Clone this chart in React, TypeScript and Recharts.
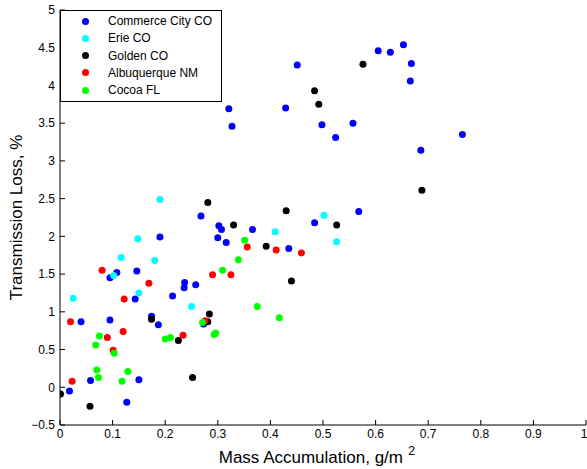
import React from 'react';
import { ScatterChart, Scatter, XAxis, YAxis, Legend } from 'recharts';

// [mass accumulation g/m^2, transmission loss %]
const commerceCity = [
  [0.451, 4.27], [0.605, 4.46], [0.628, 4.44], [0.653, 4.54], [0.668, 4.29], [0.666, 4.06],
  [0.321, 3.69], [0.327, 3.46], [0.429, 3.70], [0.498, 3.48], [0.557, 3.50], [0.524, 3.31],
  [0.765, 3.35], [0.686, 3.14], [0.568, 2.33], [0.484, 2.18], [0.435, 1.84], [0.366, 2.09],
  [0.268, 2.27], [0.302, 2.14], [0.307, 2.09], [0.300, 1.98], [0.316, 1.92], [0.190, 1.99],
  [0.146, 1.54], [0.108, 1.52], [0.095, 1.45], [0.237, 1.39], [0.236, 1.32], [0.258, 1.36],
  [0.214, 1.21], [0.143, 1.17], [0.095, 0.89], [0.040, 0.87], [0.174, 0.94], [0.187, 0.83],
  [0.273, 0.84], [0.058, 0.09], [0.150, 0.10], [0.018, -0.05], [0.127, -0.20],
];
const erie = [
  [0.190, 2.49], [0.148, 1.97], [0.116, 1.72], [0.180, 1.68], [0.102, 1.48], [0.150, 1.25],
  [0.025, 1.18], [0.250, 1.07], [0.409, 2.06], [0.502, 2.28], [0.526, 1.93],
];
const golden = [
  [0.576, 4.28], [0.484, 3.93], [0.492, 3.75], [0.688, 2.61], [0.281, 2.45], [0.330, 2.15],
  [0.430, 2.34], [0.526, 2.15], [0.392, 1.87], [0.440, 1.41], [0.174, 0.90], [0.284, 0.97],
  [0.281, 0.87], [0.225, 0.62], [0.252, 0.13], [0.001, -0.09], [0.057, -0.25],
];
const albuquerque = [
  [0.080, 1.55], [0.290, 1.49], [0.325, 1.49], [0.169, 1.38], [0.122, 1.17], [0.020, 0.87],
  [0.276, 0.88], [0.090, 0.66], [0.120, 0.74], [0.101, 0.49], [0.234, 0.69], [0.023, 0.08],
  [0.356, 1.86], [0.411, 1.82], [0.459, 1.78],
];
const cocoa = [
  [0.351, 1.95], [0.339, 1.69], [0.309, 1.55], [0.271, 0.86], [0.075, 0.68], [0.068, 0.56],
  [0.103, 0.45], [0.200, 0.64], [0.210, 0.66], [0.293, 0.70], [0.296, 0.72], [0.070, 0.23],
  [0.073, 0.13], [0.129, 0.21], [0.118, 0.08], [0.375, 1.07], [0.417, 0.92],
];

const xTicks = [0, 0.1, 0.2, 0.3, 0.4, 0.5, 0.6, 0.7, 0.8, 0.9, 1];
const yTicks = [-0.5, 0, 0.5, 1, 1.5, 2, 2.5, 3, 3.5, 4, 4.5, 5];

const series = [
  { name: 'Commerce City CO', color: '#0000ff', points: commerceCity },
  { name: 'Erie CO', color: '#00ffff', points: erie },
  { name: 'Golden CO', color: '#000000', points: golden },
  { name: 'Albuquerque NM', color: '#ff0000', points: albuquerque },
  { name: 'Cocoa FL', color: '#00ff00', points: cocoa },
];

const FONT = '"Liberation Sans", Arial, Helvetica, sans-serif';

const fmt = (v: number) => (v < 0 ? '\u2212' + Math.abs(v) : String(v));

const dot = (color: string) => (props: any) =>
  <circle cx={props.cx} cy={props.cy} r={3.5} fill={color} />;

function LegendBox() {
  return (
    <div style={{ width: 160, height: 90, border: '1px solid #000', background: '#fff', fontFamily: FONT, fontSize: 12, color: '#000', boxSizing: 'content-box' }}>
      {series.map((s, i) => (
        <div key={s.name} style={{ position: 'absolute', left: 0, top: 3 + i * 17.3, height: 16, display: 'flex', alignItems: 'center' }}>
          <span style={{ position: 'absolute', left: 22, top: 4.5, width: 7, height: 7, borderRadius: '50%', background: s.color }} />
          <span style={{ position: 'absolute', left: 48, top: 0, whiteSpace: 'nowrap', lineHeight: '16px' }}>{s.name}</span>
        </div>
      ))}
    </div>
  );
}

function XLabel(props: any) {
  const { x, y, width } = props.viewBox;
  return (
    <text x={x + width / 2 - 6} y={y + 38} textAnchor="middle" fontSize={17} fill="#000" fontFamily={FONT}>
      Mass Accumulation, g/m
      <tspan dx={5} dy={-8} fontSize={13}>2</tspan>
    </text>
  );
}

function YLabel(props: any) {
  const { y, height } = props.viewBox;
  const cy = y + height / 2;
  return (
    <text x={22} y={cy} transform={`rotate(-90, 22, ${cy})`} textAnchor="middle" fontSize={17} fill="#000" fontFamily={FONT}>
      Transmission Loss, %
    </text>
  );
}

export default function App() {
  const tickStyle = { fill: '#000', fontSize: 12, fontFamily: FONT };
  return (
    <div style={{ position: 'absolute', left: 0, top: 0, width: 587, height: 469, background: '#fff' }}>
      <ScatterChart width={587} height={469} margin={{ top: 10, right: 1, bottom: 0, left: 0 }} style={{ fontFamily: FONT }}>
        <XAxis
          xAxisId="b" type="number" dataKey="x" domain={[0, 1]} ticks={xTicks} allowDataOverflow
          height={44} tickSize={-5} tickMargin={9} tick={tickStyle} tickFormatter={fmt}
          stroke="#000" axisLine={{ stroke: '#000' }} tickLine={{ stroke: '#000' }}
          label={{ content: XLabel }}
        />
        <XAxis
          xAxisId="t" orientation="top" type="number" dataKey="x" domain={[0, 1]} ticks={xTicks} allowDataOverflow
          height={0} tickSize={-5} tickFormatter={() => ''} stroke="#000"
        />
        <YAxis
          yAxisId="l" type="number" dataKey="y" domain={[-0.5, 5]} ticks={yTicks} allowDataOverflow
          width={60} tickSize={-5} tickMargin={10} tick={tickStyle} tickFormatter={fmt}
          stroke="#000" label={{ content: YLabel }}
        />
        <YAxis
          yAxisId="r" orientation="right" type="number" dataKey="y" domain={[-0.5, 5]} ticks={yTicks} allowDataOverflow
          width={0} tickSize={-5} tickFormatter={() => ''} stroke="#000"
        />
        {series.map((s) => (
          <Scatter
            key={s.name}
            name={s.name}
            xAxisId="b"
            yAxisId="l"
            data={s.points.map(([x, y]) => ({ x, y }))}
            fill={s.color}
            shape={dot(s.color)}
            isAnimationActive={false}
          />
        ))}
        <Legend
          layout="vertical" align="center" verticalAlign="middle"
          wrapperStyle={{ position: 'absolute', left: 60, top: 10, width: 162, height: 92 }}
          content={() => <LegendBox />}
        />
      </ScatterChart>
    </div>
  );
}
